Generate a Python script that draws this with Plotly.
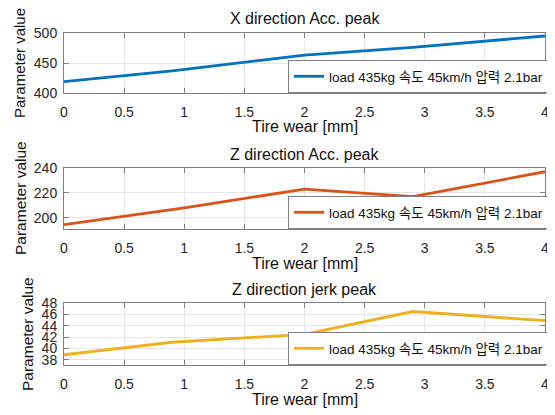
import plotly.graph_objects as go

# ---- data ----
wear_x = [0, 0.9, 2, 2.9, 4]
x_acc_peak = [419, 437, 463, 476, 495]
wear_z = [0, 1, 2, 2.9, 4]
z_acc_peak = [194.5, 208, 223, 217, 237]
wear_j = [0, 0.9, 2, 2.9, 4]
z_jerk_peak = [38.9, 41.1, 42.5, 46.5, 44.9]

legend_label = "load 435kg 속도 45km/h 압력 2.1bar"
titles = ["X direction Acc. peak", "Z direction Acc. peak", "Z direction jerk peak"]
x_ticks = [0, 0.5, 1, 1.5, 2, 2.5, 3, 3.5, 4]
x_ticklabels = ["0", "0.5", "1", "1.5", "2", "2.5", "3", "3.5", "4"]
y_ticks = [[400, 450, 500], [200, 220, 240], [38, 40, 42, 44, 46, 48]]
y_ranges = [[400, 500], [191, 240], [37.1, 48]]
colors = ["#0072BD", "#D95319", "#EDB120"]

OFF = 8  # page body margin
W, H = 555 - OFF, 415 - OFF
FONT = "Liberation Sans, Arial, Noto Sans CJK KR, sans-serif"

def px(x):
    return (x - OFF) / W

def py(y):
    return 1 - (y - OFF) / H

# pixel layout (screen coords) of the three panels (top, bottom)
panels = [(33, 93), (168, 229), (303, 365)]
x_left, x_right = 64, 545
ytitle_pos = [(20, 63, 15), (20, 198, 15.5), (27, 334, 15.5)]

fig = go.Figure()
series = [(wear_x, x_acc_peak), (wear_z, z_acc_peak), (wear_j, z_jerk_peak)]
annotations = []
for i, ((xs, ys), (top, bot)) in enumerate(zip(series, panels)):
    n = "" if i == 0 else str(i + 1)
    fig.add_trace(go.Scatter(
        x=xs, y=ys, mode="lines", name=legend_label,
        line=dict(color=colors[i], width=2.8),
        xaxis="x" + n, yaxis="y" + n, legend="legend" + n,
    ))
    axis_common = dict(
        showline=True, linecolor="#808080", linewidth=1, mirror="allticks",
        ticks="inside", ticklen=5, tickcolor="#808080", automargin=False,
        showgrid=True, gridcolor="#e6e6e6", gridwidth=1,
        zeroline=False, tickfont=dict(family=FONT, size=14, color="#262626"),
    )
    fig.update_layout(**{
        "xaxis" + n: dict(
            domain=[px(x_left), px(x_right)], anchor="y" + n, range=[0, 4],
            tickvals=x_ticks, ticktext=x_ticklabels, ticklabelstandoff=6, **axis_common),
        "yaxis" + n: dict(
            domain=[py(bot), py(top)], anchor="x" + n, range=y_ranges[i],
            tickvals=y_ticks[i], ticklabelstandoff=3, **axis_common),
        "legend" + n: dict(
            x=px(549), xanchor="right", y=py(bot), yanchor="bottom",
            bgcolor="white", bordercolor="#808080", borderwidth=1,
            font=dict(family=FONT, size=13.5, color="#111"), itemwidth=30,
        ),
    })
    # panel title
    annotations.append(dict(text=titles[i], x=px((x_left + x_right) / 2), y=py(top - 14),
                            xref="paper", yref="paper", showarrow=False,
                            xanchor="center", yanchor="middle",
                            font=dict(family=FONT, size=16, color="#111")))
    # x axis title
    annotations.append(dict(text="Tire wear [mm]", x=px(305), y=py(bot + 34),
                            xref="paper", yref="paper", showarrow=False,
                            xanchor="center", yanchor="middle",
                            font=dict(family=FONT, size=16, color="#111")))
    # y axis title
    ycx, ycy, ysz = ytitle_pos[i]
    annotations.append(dict(text="Parameter value", x=px(ycx), y=py(ycy),
                            xref="paper", yref="paper", showarrow=False, textangle=-90,
                            xanchor="center", yanchor="middle",
                            font=dict(family=FONT, size=ysz, color="#111")))

fig.update_layout(
    width=W, height=H, margin=dict(l=0, r=0, t=0, b=0),
    paper_bgcolor="white", plot_bgcolor="white",
    annotations=annotations, showlegend=True,
)
fig.write_html("out.html")
